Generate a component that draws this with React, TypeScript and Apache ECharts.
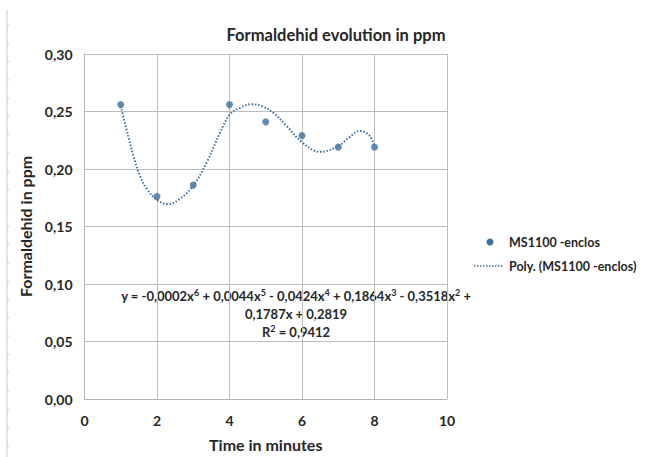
import React, { useEffect, useRef } from "react";
import * as echarts from "echarts";

const TITLE = "Formaldehid evolution in ppm";
const X_TITLE = "Time in minutes";
const Y_TITLE = "Formaldehid in ppm";
const SERIES_NAME = "MS1100 -enclos";
const TREND_NAME = "Poly. (MS1100 -enclos)";

const timeMinutes = [1, 2, 3, 4, 5, 6, 7, 8];
const ppmValues = [0.256, 0.176, 0.186, 0.256, 0.241, 0.229, 0.219, 0.219];

// trendline
const trendX = [1.0, 1.16, 1.35, 1.53, 1.72, 2.02, 2.29, 2.63, 3.0, 3.37, 3.74, 4.01, 4.29, 4.61, 4.9, 5.21, 5.58, 6.01, 6.5, 7.01, 7.3, 7.6, 7.85, 8.0];
const trendY = [0.2546, 0.2345, 0.2114, 0.1942, 0.1827, 0.1727, 0.1695, 0.1741, 0.1856, 0.2057, 0.2316, 0.2474, 0.2532, 0.2563, 0.2546, 0.2489, 0.2373, 0.223, 0.2149, 0.2201, 0.2275, 0.233, 0.2295, 0.2201];

const EQ_LINES = [
  "y = -0,0002x{s|6} + 0,0044x{s|5} - 0,0424x{s|4} + 0,1864x{s|3} - 0,3518x{s|2} +",
  "0,1787x + 0,2819",
  "R{s|2} = 0,9412",
];

const FONT = "Lato, 'Open Sans', sans-serif";
const TEXT_COLOR = "#262626";
const MARK_COLOR = "#3f6f9e";

export default function App() {
  const ref = useRef<HTMLDivElement>(null);
  useEffect(() => {
    if (!ref.current) return;
    const chart = echarts.init(ref.current, undefined, { renderer: "svg" });
    const fmt = (v: number) => v.toFixed(2).replace(".", ",");

    const edgeTicks: any[] = [];
    for (let i = 0; i < 24; i++) {
      edgeTicks.push({
        type: "line",
        shape: { x1: 7, y1: 25 + i * 18.3, x2: 9, y2: 25 + i * 18.3 },
        style: { stroke: "#c8c8c8", lineWidth: 1 },
        silent: true,
      });
    }

    const eqRich = {
      s: { fontFamily: FONT, fontSize: 9, fontWeight: "bold", fill: TEXT_COLOR, verticalAlign: "top", lineHeight: 16, padding: [0, 0, 6, 0] },
    };
    const eqText = (text: string, y: number) => ({
      type: "text",
      x: 296,
      y,
      style: {
        text,
        fontFamily: FONT,
        fontSize: 13,
        fontWeight: "bold",
        fill: TEXT_COLOR,
        align: "center",
        verticalAlign: "middle",
        lineHeight: 16,
        rich: eqRich,
      },
    });

    chart.setOption({
      animation: false,
      backgroundColor: "#ffffff",
      title: {
        text: TITLE,
        left: 331,
        top: 21,
        textAlign: "center",
        textStyle: { fontFamily: FONT, fontSize: 16.5, fontWeight: "bold", color: TEXT_COLOR },
      },
      grid: { left: 84.5, right: 200, top: 54, bottom: 55, containLabel: false },
      xAxis: {
        type: "value",
        min: 0,
        max: 10,
        interval: 2,
        name: X_TITLE,
        nameLocation: "middle",
        nameGap: 37,
        nameTextStyle: { fontFamily: FONT, fontSize: 16, fontWeight: "bold", color: TEXT_COLOR },
        axisLine: { show: true, lineStyle: { color: "#b3b3b3", width: 1 } },
        axisTick: { show: false },
        axisLabel: { fontFamily: FONT, fontSize: 14, fontWeight: "bold", color: TEXT_COLOR, margin: 14 },
        splitLine: { show: true, lineStyle: { color: "#bdbdbd", width: 1 } },
      },
      yAxis: {
        type: "value",
        min: 0,
        max: 0.3,
        interval: 0.05,
        name: Y_TITLE,
        nameLocation: "middle",
        nameGap: 51,
        nameRotate: 90,
        nameTextStyle: { fontFamily: FONT, fontSize: 16, fontWeight: "bold", color: TEXT_COLOR },
        axisLine: { show: true, lineStyle: { color: "#b3b3b3", width: 1 } },
        axisTick: { show: false },
        axisLabel: { fontFamily: FONT, fontSize: 14, fontWeight: "bold", color: TEXT_COLOR, margin: 12, formatter: fmt },
        splitLine: { show: true, lineStyle: { color: "#bdbdbd", width: 1 } },
      },
      series: [
        {
          name: TREND_NAME,
          type: "line",
          data: trendX.map((x, i) => [x, trendY[i]]),
          smooth: 0.4,
          symbol: "none",
          lineStyle: { color: MARK_COLOR, width: 2, type: [1.5, 1.8] },
          z: 2,
        },
        {
          name: SERIES_NAME,
          type: "scatter",
          data: timeMinutes.map((x, i) => [x, ppmValues[i]]),
          symbol: "circle",
          symbolSize: 7,
          itemStyle: { color: MARK_COLOR },
          z: 3,
        },
      ],
      graphic: [
        {
          type: "line",
          shape: { x1: 7, y1: 10, x2: 7, y2: 457 },
          style: { stroke: "#c8c8c8", lineWidth: 1 },
          silent: true,
        },
        ...edgeTicks,
        eqText(EQ_LINES[0], 296),
        eqText(EQ_LINES[1], 314),
        eqText(EQ_LINES[2], 332),
        {
          type: "circle",
          shape: { cx: 490, cy: 242, r: 3.5 },
          style: { fill: MARK_COLOR },
        },
        {
          type: "text",
          x: 509,
          y: 242,
          style: { text: SERIES_NAME, font: `bold 12.5px ${FONT}`, fill: TEXT_COLOR, align: "left", verticalAlign: "middle" },
        },
        {
          type: "line",
          shape: { x1: 474, y1: 266, x2: 504, y2: 266 },
          style: { stroke: MARK_COLOR, lineWidth: 1.5, lineDash: [1.5, 1.5] },
        },
        {
          type: "text",
          x: 509,
          y: 266,
          style: { text: TREND_NAME, font: `bold 12.5px ${FONT}`, fill: TEXT_COLOR, align: "left", verticalAlign: "middle" },
        },
      ],
    });
    return () => chart.dispose();
  }, []);
  return <div ref={ref} style={{ width: 647, height: 457, position: "absolute", left: 0, top: 0 }} />;
}
